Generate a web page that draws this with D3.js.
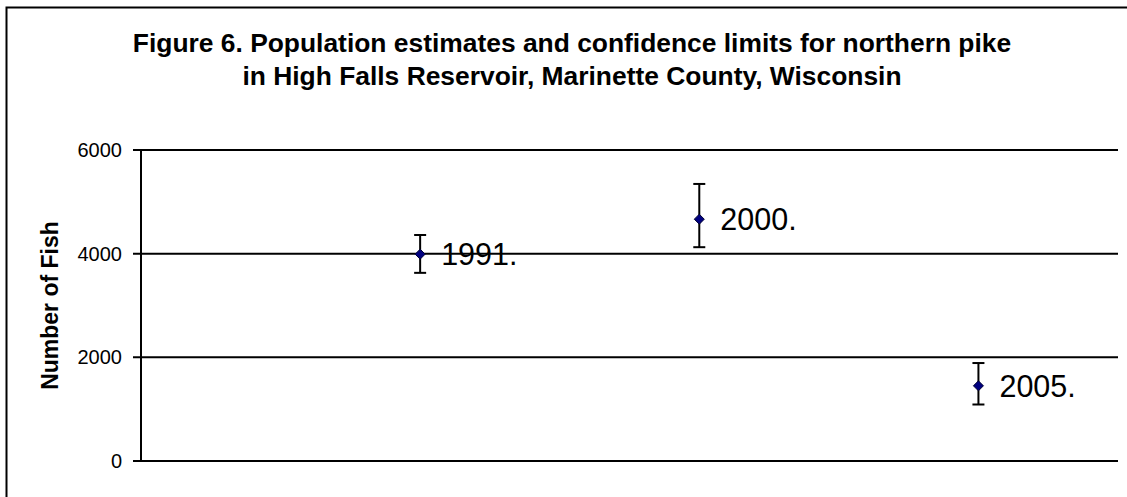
<!DOCTYPE html>
<html>
<head>
<meta charset="utf-8">
<script src="https://cdnjs.cloudflare.com/ajax/libs/d3/7.8.5/d3.min.js"></script>
<style>
  body { margin: 0; background: #fff; }
  text { font-family: Arial, "Liberation Sans", sans-serif; fill: #000; }
  .title { font-weight: bold; font-size: 26.4px; }
  .axis-title { font-weight: bold; font-size: 23px; }
  .tick-label { font-size: 20px; }
  .point-label { font-size: 30.5px; }
</style>
</head>
<body>
<div id="chart"></div>
<script>
// data
var years = ["1991.", "2000.", "2005."];
var estimates = [3990, 4665, 1450];
var lowerLimits = [3630, 4125, 1090];
var upperLimits = [4360, 5345, 1890];
var yTicks = [0, 2000, 4000, 6000];

///////////////////////////// Set up the SVG //////////////////////////////
var width = 1127, height = 497;
var margin = { top: 150, right: 9, bottom: 36, left: 141 };

var svg = d3.select("#chart").append("svg")
  .attr("width", width)
  .attr("height", height);

//outer frame (runs past right and bottom edge)
svg.append("rect")
  .attr("x", 6.5).attr("y", 7.5)
  .attr("width", width + 20).attr("height", height + 20)
  .style("fill", "none").style("stroke", "#000").style("stroke-width", 2);

//title
var title = svg.append("text")
  .attr("class", "title")
  .attr("text-anchor", "middle")
  .attr("x", 572);
title.append("tspan").attr("x", 572).attr("y", 52)
  .text("Figure 6. Population estimates and confidence limits for northern pike");
title.append("tspan").attr("x", 572).attr("y", 85)
  .text("in High Falls Reservoir, Marinette County, Wisconsin");

////////////////////////////// Scales /////////////////////////////////////
var xScale = d3.scaleLinear()
  .domain([0, 3.5])
  .range([margin.left, width - margin.right]);

var yScale = d3.scaleLinear()
  .domain([0, 6000])
  .range([height - margin.bottom, margin.top]);

////////////////////////////// Grid & axis ////////////////////////////////
var grid = svg.append("g").attr("class", "grid");
grid.selectAll("line")
  .data(yTicks)
  .enter().append("line")
  .attr("x1", margin.left - 8)
  .attr("x2", width - margin.right)
  .attr("y1", function(d) { return yScale(d); })
  .attr("y2", function(d) { return yScale(d); })
  .style("stroke", "#000").style("stroke-width", 2);

svg.append("line")
  .attr("x1", margin.left).attr("x2", margin.left)
  .attr("y1", yScale(6000)).attr("y2", yScale(0))
  .style("stroke", "#000").style("stroke-width", 2);

svg.selectAll(".tick-label")
  .data(yTicks)
  .enter().append("text")
  .attr("class", "tick-label")
  .attr("text-anchor", "end")
  .attr("x", margin.left - 19)
  .attr("y", function(d) { return yScale(d); })
  .attr("dy", "0.35em")
  .text(function(d) { return d; });

svg.append("text")
  .attr("class", "axis-title")
  .attr("text-anchor", "middle")
  .attr("transform", "translate(58," + ((yScale(0) + yScale(6000)) / 2) + ") rotate(-90)")
  .text("Number of Fish");

///////////////////////////// Error bars & points //////////////////////////
var pts = svg.append("g").attr("class", "points")
  .selectAll("g")
  .data(years)
  .enter().append("g")
  .attr("transform", function(d, i) { return "translate(" + xScale(i + 1) + ",0)"; });

pts.append("line")
  .attr("y1", function(d, i) { return yScale(upperLimits[i]); })
  .attr("y2", function(d, i) { return yScale(lowerLimits[i]); })
  .style("stroke", "#000").style("stroke-width", 2);
pts.append("line")
  .attr("x1", -6).attr("x2", 6)
  .attr("y1", function(d, i) { return yScale(upperLimits[i]); })
  .attr("y2", function(d, i) { return yScale(upperLimits[i]); })
  .style("stroke", "#000").style("stroke-width", 2);
pts.append("line")
  .attr("x1", -6).attr("x2", 6)
  .attr("y1", function(d, i) { return yScale(lowerLimits[i]); })
  .attr("y2", function(d, i) { return yScale(lowerLimits[i]); })
  .style("stroke", "#000").style("stroke-width", 2);

pts.append("path")
  .attr("d", "M0,-5L5,0L0,5L-5,0Z")
  .attr("transform", function(d, i) { return "translate(0," + yScale(estimates[i]) + ")"; })
  .style("fill", "#000080").style("stroke", "#000033").style("stroke-width", 1);

pts.append("text")
  .attr("class", "point-label")
  .attr("x", 21)
  .attr("y", function(d, i) { return yScale(estimates[i]); })
  .attr("dy", "0.36em")
  .text(function(d) { return d; });
</script>
</body>
</html>
